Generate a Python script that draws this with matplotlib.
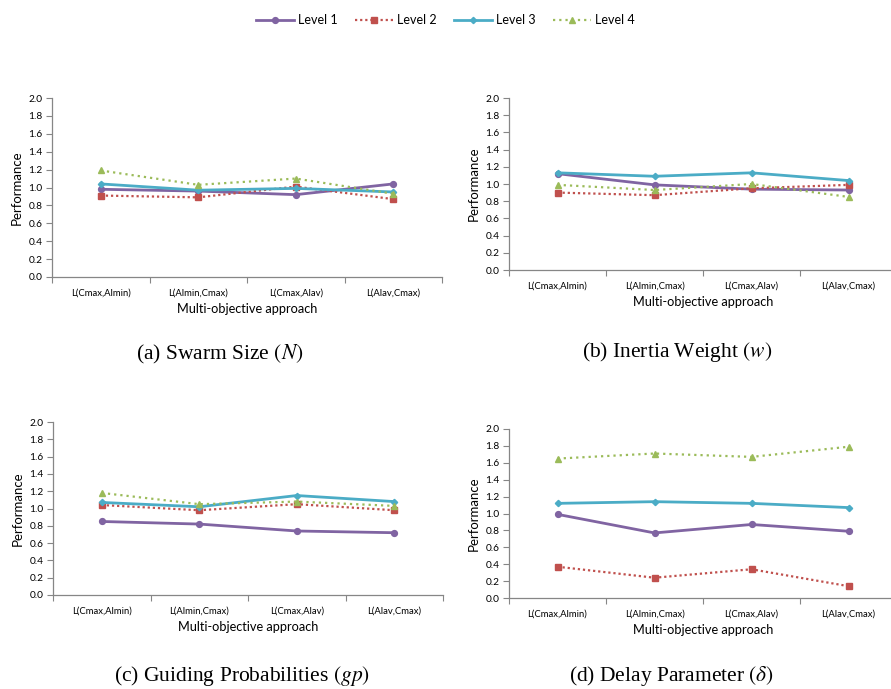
import matplotlib
matplotlib.use("Agg")
import matplotlib.pyplot as plt
import numpy as np

categories = ["L(Cmax,Almin)", "L(Almin,Cmax)", "L(Cmax,Alav)", "L(Alav,Cmax)"]
series_names = ["Level 1", "Level 2", "Level 3", "Level 4"]

# Panel (a) Swarm Size
a_level1 = [0.98, 0.96, 0.92, 1.04]
a_level2 = [0.91, 0.89, 1.01, 0.87]
a_level3 = [1.04, 0.97, 0.99, 0.95]
a_level4 = [1.19, 1.03, 1.10, 0.93]
# Panel (b) Inertia Weight
b_level1 = [1.12, 0.99, 0.94, 0.93]
b_level2 = [0.90, 0.87, 0.95, 0.99]
b_level3 = [1.13, 1.09, 1.13, 1.04]
b_level4 = [0.99, 0.93, 1.00, 0.85]
# Panel (c) Guiding Probabilities
c_level1 = [0.85, 0.82, 0.74, 0.72]
c_level2 = [1.04, 0.98, 1.05, 0.98]
c_level3 = [1.07, 1.02, 1.15, 1.08]
c_level4 = [1.18, 1.05, 1.08, 1.03]
# Panel (d) Delay Parameter
d_level1 = [0.99, 0.77, 0.87, 0.79]
d_level2 = [0.37, 0.24, 0.34, 0.14]
d_level3 = [1.12, 1.14, 1.12, 1.07]
d_level4 = [1.65, 1.71, 1.67, 1.79]

captions = [r"(a) Swarm Size $(N)$", r"(b) Inertia Weight $(w)$",
            r"(c) Guiding Probabilities $(gp)$", r"(d) Delay Parameter $(\delta)$"]
yticks = [0.0, 0.2, 0.4, 0.6, 0.8, 1.0, 1.2, 1.4, 1.6, 1.8, 2.0]

panels = [
    [a_level1, a_level2, a_level3, a_level4],
    [b_level1, b_level2, b_level3, b_level4],
    [c_level1, c_level2, c_level3, c_level4],
    [d_level1, d_level2, d_level3, d_level4],
]

W, H = 891, 689
fig = plt.figure(figsize=(W / 100, H / 100), dpi=100)

# pixel boxes: left, right, top(2.0), bottom(0.0)
boxes = [(52, 442, 98, 277), (509, 897, 98, 270), (53, 443, 422, 595), (509, 897, 429, 598)]
cap_pos = [(220, 354), (677, 352), (242, 676), (671, 676)]

styles = [
    dict(color="#8064A2", lw=2.0, ls="-", marker="o", ms=4.2),
    dict(color="#C0504D", lw=1.6, ls=(0, (1, 1.3)), marker="s", ms=4.0),
    dict(color="#4BACC6", lw=2.0, ls="-", marker="D", ms=3.2),
    dict(color="#9BBB59", lw=1.6, ls=(0, (1, 1.8)), marker="^", ms=4.8),
]

axis_col = "#868686"
tickfont = "Lato"
x = np.arange(len(categories))
handles = []
for i, (data, (l, r, t, b)) in enumerate(zip(panels, boxes)):
    ax = fig.add_axes([l / W, 1 - b / H, (r - l) / W, (b - t) / H])
    for j, vals in enumerate(data):
        st = styles[j]
        h, = ax.plot(x, vals, color=st["color"], lw=st["lw"], ls=st["ls"],
                     marker=st["marker"], ms=st["ms"], mec=st["color"], mfc=st["color"],
                     label=series_names[j], clip_on=False, zorder=3)
        if i == 0:
            handles.append(h)
    ax.set_xlim(-0.5, len(categories) - 0.5)
    ax.set_ylim(0, 2.0)
    ax.set_yticks(yticks)
    ax.set_yticklabels([f"{v:.1f}" for v in yticks], fontsize=7.3, family=tickfont, color="#000000")
    ax.set_xticks(x)
    ax.set_xticklabels(categories, fontsize=6.8, family=tickfont)
    ax.set_xticks(np.arange(-0.5, len(categories)), minor=True)
    ax.tick_params(axis="x", which="major", length=0, pad=8)
    ax.tick_params(axis="x", which="minor", length=4, width=0.8, color=axis_col, direction="out")
    ax.tick_params(axis="y", length=4, width=0.8, color=axis_col, direction="out", pad=3)
    for s in ["top", "right"]:
        ax.spines[s].set_visible(False)
    for s in ["left", "bottom"]:
        ax.spines[s].set_color(axis_col)
        ax.spines[s].set_linewidth(0.9)
    ax.set_ylabel("Performance", fontsize=9.5, family=tickfont, labelpad=4)
    ax.set_xlabel("Multi-objective approach", fontsize=9.2, family=tickfont, labelpad=4)
    cx, cy = cap_pos[i]
    fig.text(cx / W, 1 - cy / H, captions[i], ha="center", va="center",
             fontsize=15.5, family="Liberation Serif", math_fontfamily="stix")

fig.legend(handles=handles, labels=series_names, loc="center", ncol=4,
           bbox_to_anchor=(0.5, 1 - 20 / H), frameon=False,
           prop={"family": tickfont, "size": 9}, handlelength=3.0,
           columnspacing=1.4, handletextpad=0.35)

fig.savefig("out.png", dpi=100)
